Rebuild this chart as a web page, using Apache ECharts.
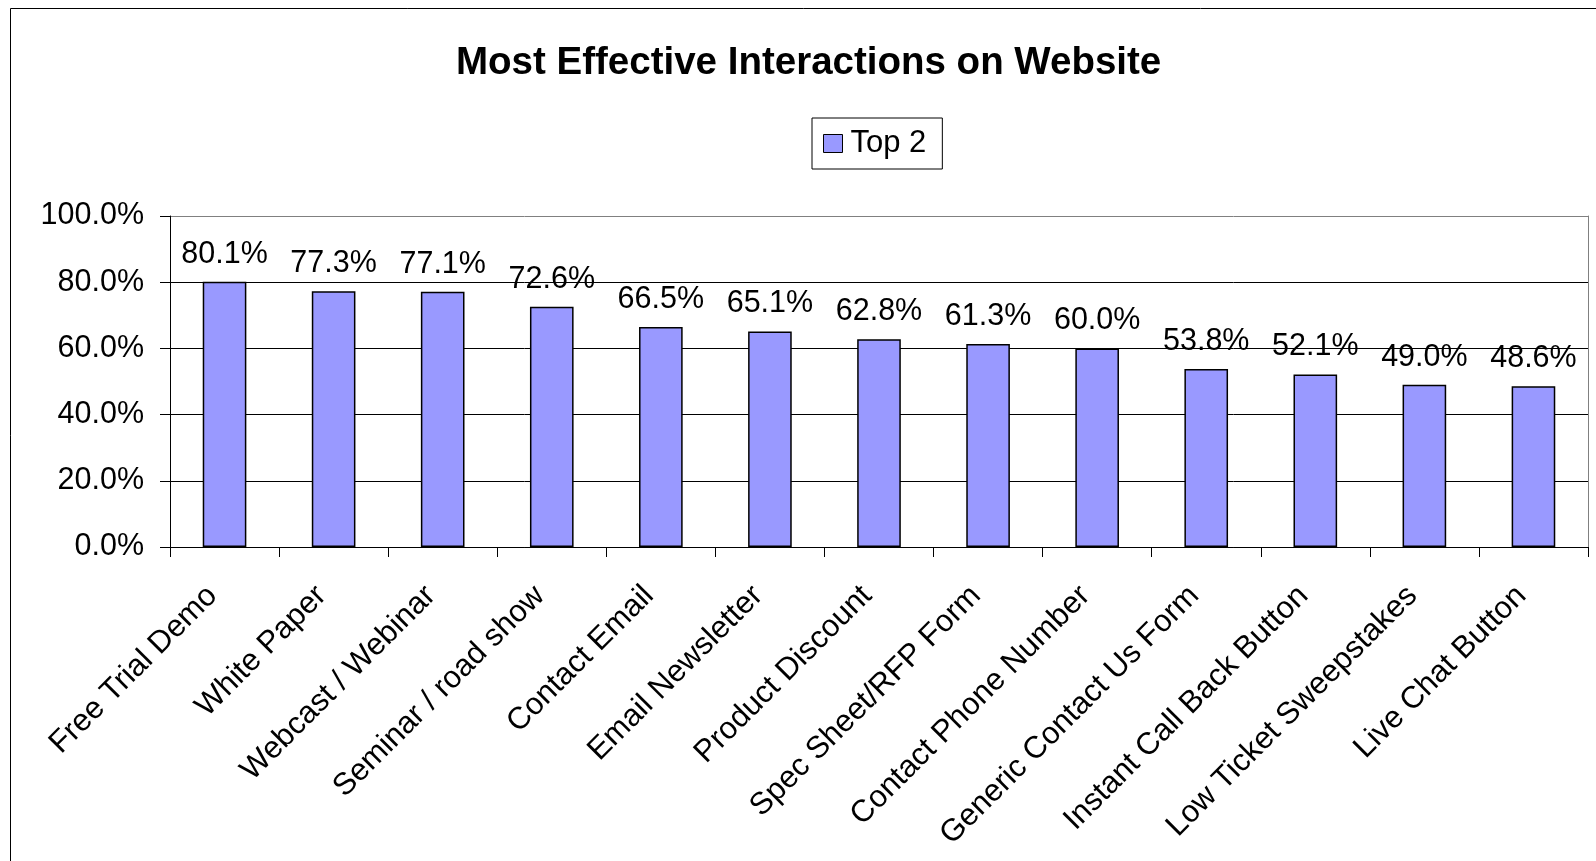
<!DOCTYPE html>
<html>
<head>
<meta charset="utf-8">
<script src="https://cdn.jsdelivr.net/npm/echarts@6/dist/echarts.min.js"></script>
<style>
html,body{margin:0;padding:0;background:#fff;}
#chart{width:1596px;height:861px;}
</style>
</head>
<body>
<div id="chart"></div>
<script>
const categories = ["Free Trial Demo","White Paper","Webcast / Webinar","Seminar / road show","Contact Email","Email Newsletter","Product Discount","Spec Sheet/RFP Form","Contact Phone Number","Generic Contact Us Form","Instant Call Back Button","Low Ticket Sweepstakes","Live Chat Button"];
const top2 = [80.1,77.3,77.1,72.6,66.5,65.1,62.8,61.3,60.0,53.8,52.1,49.0,48.6];
const seriesName = "Top 2";
const titleText = "Most Effective Interactions on Website";

const FONT = "'Liberation Sans', Arial, sans-serif";
const chart = echarts.init(document.getElementById('chart'));
chart.setOption({
  animation:false,
  backgroundColor:'#fff',
  graphic:[{type:'rect',shape:{x:10.5,y:8.5,width:1700,height:1000},style:{fill:'none',stroke:'#000',lineWidth:1},silent:true,z:-10}],
  title:{text:titleText,left:456,top:44,padding:0,
    textStyle:{fontFamily:FONT,fontSize:38.5,fontWeight:'bold',color:'#000'}},
  legend:{data:[seriesName],left:812,top:118,padding:[10,16,10,11],
    borderColor:'#000',borderWidth:1,icon:'rect',itemWidth:19,itemHeight:18,
    textStyle:{fontFamily:FONT,fontSize:31,color:'#000',padding:[0,0,0,3]},
    itemStyle:{borderColor:'#000',borderWidth:1}},
  grid:{left:170,top:216,right:8,bottom:314,containLabel:false},
  xAxis:{type:'category',data:categories,boundaryGap:true,
    axisLine:{lineStyle:{color:'#000',width:1}},
    axisTick:{show:true,length:10,alignWithLabel:false,lineStyle:{color:'#000'}},
    axisLabel:{interval:0,rotate:45,margin:32,padding:[0,17,0,0],fontFamily:FONT,fontSize:31,color:'#000'},
    splitLine:{show:false}},
  yAxis:[{type:'value',min:0,max:100,interval:20,
    axisLine:{show:true,lineStyle:{color:'#000',width:1}},
    axisTick:{show:true,length:10,lineStyle:{color:'#000'}},
    axisLabel:{margin:26,fontFamily:FONT,fontSize:30.5,color:'#000',padding:[9,0,0,0],formatter:v=>v.toFixed(1)+'%'},
    splitLine:{show:true,lineStyle:{color:['#000','#000','#000','#000','#000','#808080'],width:1}}},
    {type:'value',min:0,max:100,interval:20,position:'right',
    axisLine:{show:true,lineStyle:{color:'#808080',width:1}},
    axisTick:{show:false},axisLabel:{show:false},splitLine:{show:false}}],
  series:[{name:seriesName,type:'bar',data:top2,barWidth:'40%',
    itemStyle:{color:'#9999FF',borderColor:'#000',borderWidth:1.5},
    label:{show:true,position:'top',distance:12,fontFamily:FONT,fontSize:30.5,color:'#000',
      formatter:p=>p.value.toFixed(1)+'%'}}]
});
</script>
</body>
</html>
